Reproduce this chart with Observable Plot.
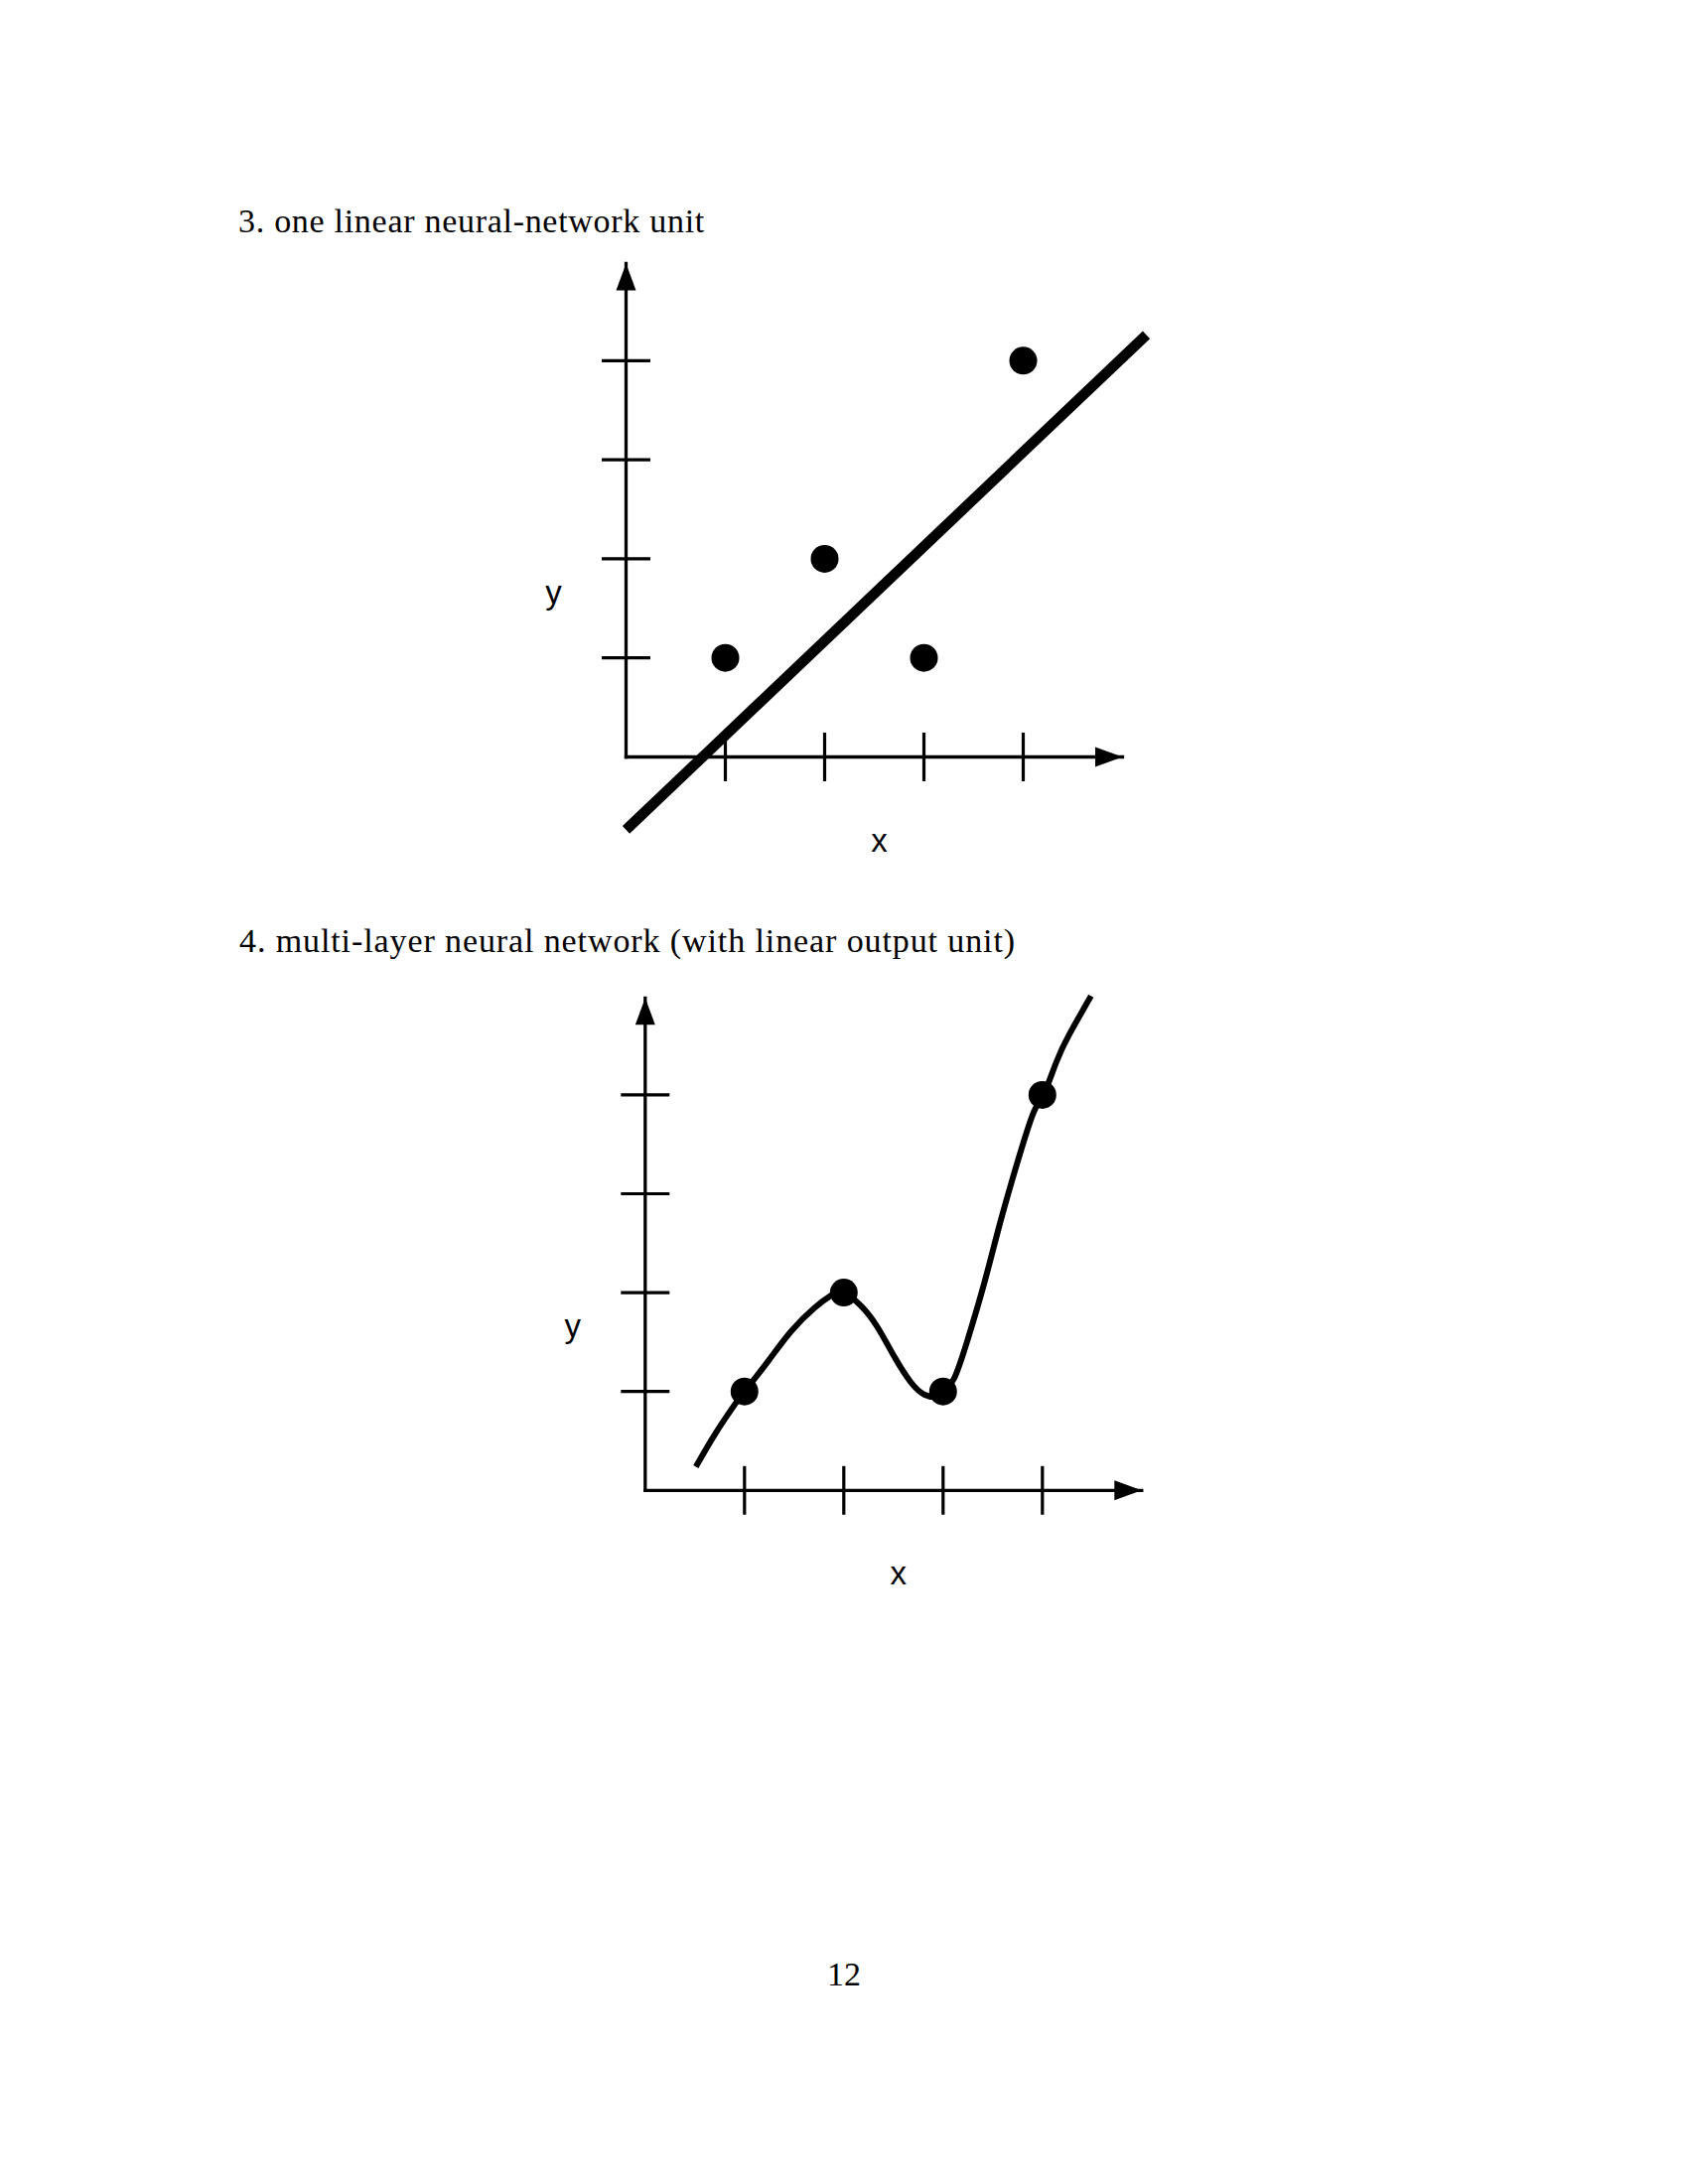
<!DOCTYPE html>
<html>
<head>
<meta charset="utf-8">
<script src="https://cdn.jsdelivr.net/npm/d3@7"></script>
<script src="https://cdn.jsdelivr.net/npm/@observablehq/plot@0.6"></script>
<style>
  html, body { margin: 0; padding: 0; background: #fff; }
  #page { position: relative; width: 1700px; height: 2200px; background: #fff; overflow: hidden; }
  .title { position: absolute; font-family: "Liberation Serif", serif; font-size: 34px; line-height: 34px; color: #000; white-space: nowrap; }
  .chart { position: absolute; }
  .chart svg { overflow: visible; background: transparent; }
</style>
</head>
<body>
<div id="page">
  <div class="title" id="t1" data-target="470">3. one linear neural-network unit</div>
  <div class="title" id="t2" data-target="782">4. multi-layer neural network (with linear output unit)</div>
  <div class="title" id="pg">12</div>
  <div class="chart" id="c1"></div>
  <div class="chart" id="c2"></div>
</div>
<script>
// ---------- data ----------
const tickValues = [1, 2, 3, 4];
const pointX = [1, 2, 3, 4];
const pointY = [1, 2, 1, 4];
// chart 3: fitted straight line (endpoints)
const fitX = [0, 5.24];
const fitY = [-0.735, 4.26];
// chart 4: smooth network output curve
const curveX = [0.51, 0.71, 0.91, 1.00, 1.24, 1.47, 1.71, 1.87, 1.99, 2.17, 2.34, 2.51, 2.67, 2.81, 2.94, 3.01, 3.11, 3.24, 3.41, 3.57, 3.74, 3.91, 4.01, 4.14, 4.27, 4.49];
const curveY = [0.24, 0.58, 0.88, 1.00, 1.31, 1.61, 1.85, 1.97, 2.00, 1.87, 1.65, 1.35, 1.10, 0.97, 0.95, 1.00, 1.13, 1.50, 2.08, 2.69, 3.29, 3.82, 4.00, 4.33, 4.61, 5.00];
const axisXEnd = 5.0;
const axisYEnd = 4.98;
const labelXPos = 2.55;
const labelYPos = 1.55;

// ---------- shapes (styles) ----------
const arrowUp = {draw(ctx) { ctx.moveTo(0, 0); ctx.lineTo(10, 27); ctx.lineTo(-10, 27); ctx.closePath(); }};
const arrowRight = {draw(ctx) { ctx.moveTo(0, 0); ctx.lineTo(-27.5, -10); ctx.lineTo(-27.5, 10); ctx.closePath(); }};
const vTick = {draw(ctx) { ctx.rect(-1.6, -24.5, 3.2, 49); }};
const hTick = {draw(ctx) { ctx.rect(-24.5, -1.6, 49, 3.2); }};

const points = pointX.map((x, i) => ({x, y: pointY[i]}));
const fit = fitX.map((x, i) => ({x, y: fitY[i]}));
const curve = curveX.map((x, i) => ({x, y: curveY[i]}));
const axes = [{x1: 0, y1: 0, x2: axisXEnd, y2: 0}, {x1: 0, y1: 0, x2: 0, y2: axisYEnd}];

function frameMarks() {
  return [
    Plot.link(axes, {x1: "x1", y1: "y1", x2: "x2", y2: "y2", stroke: "black", strokeWidth: 3.3, strokeLinecap: "square"}),
    Plot.dot([0], {x: () => 0, y: () => axisYEnd, symbol: arrowUp, fill: "black", stroke: "none"}),
    Plot.dot([0], {x: () => axisXEnd, y: () => 0, symbol: arrowRight, fill: "black", stroke: "none"}),
    Plot.dot(tickValues, {x: d => d, y: () => 0, symbol: vTick, fill: "black", stroke: "none"}),
    Plot.dot(tickValues, {x: () => 0, y: d => d, symbol: hTick, fill: "black", stroke: "none"}),
    Plot.text(["x"], {x: () => labelXPos, y: () => 0, dy: 95, text: d => d, lineAnchor: "bottom", textAnchor: "middle", fontSize: 33, fontFamily: "Liberation Sans", fill: "black"}),
    Plot.text(["y"], {x: () => 0, y: () => labelYPos, dx: -73, text: d => d, lineAnchor: "bottom", textAnchor: "middle", fontSize: 33, fontFamily: "Liberation Sans", fill: "black"})
  ];
}

const chart1 = Plot.plot({
  width: 800, height: 660,
  x: {domain: [0, 5], range: [200, 700], axis: null},
  y: {domain: [0, 5], range: [522, 23], axis: null},
  style: {background: "transparent", overflow: "visible"},
  marks: [
    ...frameMarks(),
    Plot.line(fit, {x: "x", y: "y", stroke: "black", strokeWidth: 10.5, strokeLinecap: "butt"}),
    Plot.dot(points, {x: "x", y: "y", r: 14, fill: "black", stroke: "none"})
  ]
});
const c1 = document.getElementById("c1");
c1.style.left = "430px"; c1.style.top = "240px";
c1.appendChild(chart1);

const chart2 = Plot.plot({
  width: 800, height: 700,
  x: {domain: [0, 5], range: [199.3, 699.3], axis: null},
  y: {domain: [0, 5], range: [540.8, 42.8], axis: null},
  style: {background: "transparent", overflow: "visible"},
  marks: [
    ...frameMarks(),
    Plot.line(curve, {x: "x", y: "y", curve: "natural", stroke: "black", strokeWidth: 6, strokeLinecap: "butt"}),
    Plot.dot(points, {x: "x", y: "y", r: 14, fill: "black", stroke: "none"})
  ]
});
const c2 = document.getElementById("c2");
c2.style.left = "450px"; c2.style.top = "960px";
c2.appendChild(chart2);

// ---------- text placement ----------
// baseline ≈ top + 0.8375 * fontSize for Liberation Serif at line-height 1
function place(id, left, baseline, center) {
  const el = document.getElementById(id);
  const fs = 34;
  el.style.top = (baseline - 0.8375 * fs) + "px";
  const target = +el.dataset.target;
  if (target) {
    const w = el.getBoundingClientRect().width;
    const n = el.textContent.length;
    el.style.letterSpacing = ((target - w) / n) + "px";
  }
  if (center) {
    const w = el.getBoundingClientRect().width;
    el.style.left = (left - w / 2) + "px";
  } else {
    el.style.left = left + "px";
  }
}
place("t1", 240, 234, false);
place("t2", 241, 959, false);
place("pg", 850, 2000, true);
</script>
</body>
</html>
